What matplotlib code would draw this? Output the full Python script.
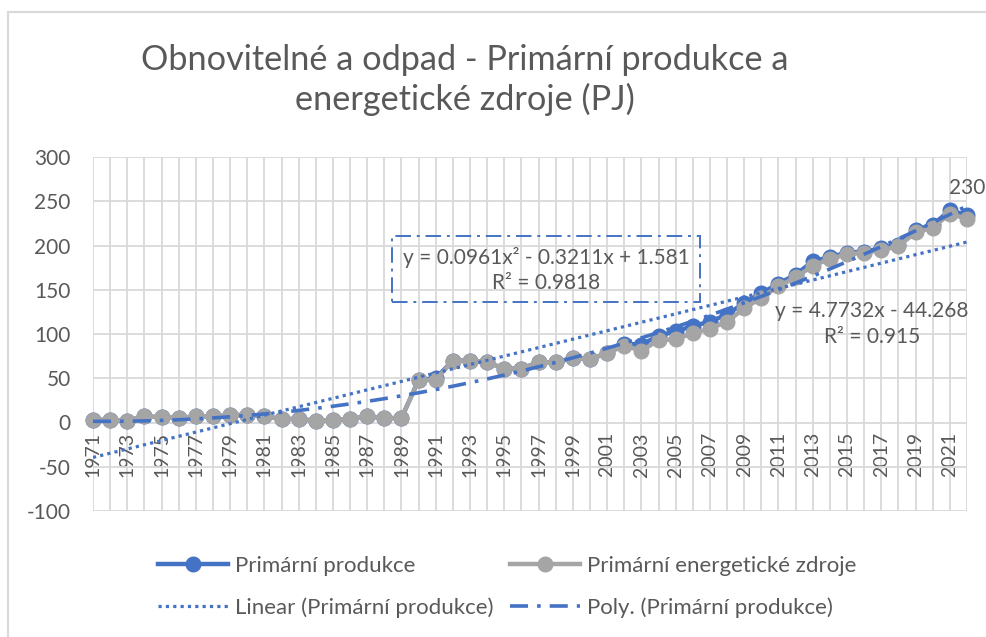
import matplotlib.pyplot as plt
from matplotlib.patches import Rectangle
from matplotlib.lines import Line2D
import numpy as np

plt.rcParams['font.family'] = ['Lato', 'DejaVu Sans']
plt.rcParams['axes.unicode_minus'] = False

years = list(range(1971, 2023))
produkce = [3, 3, 2, 7, 6, 5, 7, 7, 8, 9, 7, 4, 4, 2, 3, 4, 7, 5, 5,
            48, 50, 70, 70, 68, 61, 61, 68, 68, 73, 72, 78,
            89, 88, 98, 103, 109, 114, 122, 135, 146, 157, 167, 182, 187,
            192, 193, 197, 201, 218, 223, 240, 234]
zdroje = [3, 3, 2, 7, 6, 5, 7, 7, 8, 9, 7, 4, 4, 2, 3, 4, 7, 5, 5,
          48, 48, 70, 70, 68, 61, 61, 68, 68, 73, 72, 78,
          87, 81, 93, 94, 101, 106, 114, 129, 141, 154, 164, 177, 185,
          190, 192, 195, 199, 215, 220, 236, 230]
# trendline coefficients as printed on the chart
lin_coef = [4.7732, -44.268]
poly_coef = [0.0961, -0.3211, 1.581]

blue = "#4472C4"
gray = "#A5A5A5"
txt = "#595959"
grid = "#D9D9D9"

fig = plt.figure(figsize=(9.86, 6.37), dpi=100)
W, H = 986, 637
ax = fig.add_axes([93 / W, 1 - 511 / H, (967 - 93) / W, (511 - 157) / H])

idx = np.arange(len(years))
xx = idx + 1

ax.plot(idx, produkce, color=blue, lw=3.2, marker="o", ms=10.5, clip_on=False, zorder=3)
ax.plot(idx, zdroje, color=gray, lw=3.2, marker="o", ms=10.5, clip_on=False, zorder=4)
ax.plot(idx, np.polyval(lin_coef, xx), color=blue, lw=2.3, dashes=(1, 1.3), zorder=5)
ax.plot(idx, np.polyval(poly_coef, xx), color=blue, lw=2.6, dashes=(5, 2.5, 1, 2.5), zorder=5)

ax.spines["bottom"].set_position(("data", 0))
for s in ax.spines.values():
    s.set_visible(False)
ax.set_xlim(0, len(years) - 1)
ax.set_ylim(-100, 300)
ax.set_yticks(range(-100, 301, 50))
ax.set_xticks(idx)
ax.set_xticklabels([str(y) if i % 2 == 0 else "" for i, y in enumerate(years)])
ax.grid(True, color=grid, lw=1.3)
ax.set_axisbelow(True)
ax.tick_params(axis="both", length=0, colors=txt)
ax.tick_params(axis="x", pad=7, labelsize=14, labelrotation=90)
ax.tick_params(axis="y", pad=16, labelsize=15)

# data label on last point
ax.annotate(str(zdroje[-1]), (idx[-1], zdroje[-1]), xytext=(0, 15),
            textcoords="offset points", ha="center", va="bottom",
            color=txt, fontsize=15, annotation_clip=False)

# trendline equations
fig.text(546 / W, 1 - 270 / H, "y = 0.0961x² - 0.3211x + 1.581\nR² = 0.9818",
         ha="center", va="center", color=txt, fontsize=15, linespacing=1.35,
         multialignment="center")
fig.patches.append(Rectangle((392 / W, 1 - 302 / H), 308 / W, 66 / H,
                             transform=fig.transFigure, fill=False, ec=blue,
                             lw=1.4, ls=(0, (8, 3, 1.5, 3))))
fig.text(872 / W, 1 - 324 / H, "y = 4.7732x - 44.268\nR² = 0.915",
         ha="center", va="center", color=txt, fontsize=15, linespacing=1.35,
         multialignment="center")

fig.text(465 / W, 1 - 80 / H, "Obnovitelné a odpad - Primární produkce a\nenergetické zdroje (PJ)",
         ha="center", va="center", color=txt, fontsize=24.7, linespacing=1.22)

handles = [
    Line2D([], [], color=blue, lw=3.2, marker="o", ms=10.5),
    Line2D([], [], color=blue, lw=2.3, dashes=(1, 1.3)),
    Line2D([], [], color=gray, lw=3.2, marker="o", ms=10.5),
    Line2D([], [], color=blue, lw=2.6, dashes=(5, 2.5, 1, 2.5)),
]
labels = ["Primární produkce", "Linear (Primární produkce)",
          "Primární energetické zdroje", "Poly. (Primární produkce)"]
fig.legend(handles, labels, ncol=2, loc="center", bbox_to_anchor=(507 / W, 1 - 587 / H),
           frameon=False, fontsize=16, labelcolor=txt, handlelength=3.15,
           handletextpad=0.3, columnspacing=0.75, labelspacing=0.95)

fig.patches.append(Rectangle((8 / W, -0.1), 1.2, 1 - 12 / H + 0.1,
                             transform=fig.transFigure, fill=False, ec=grid, lw=1.5))

fig.savefig("out.png", dpi=100)
